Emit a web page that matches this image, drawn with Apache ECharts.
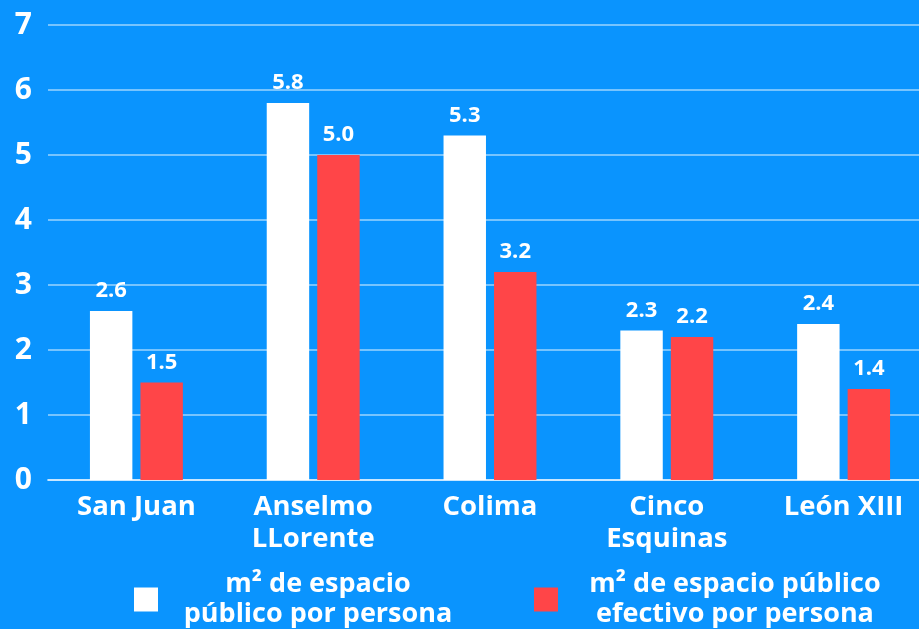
<!DOCTYPE html>
<html>
<head>
<meta charset="utf-8">
<script src="https://cdn.jsdelivr.net/npm/echarts@6/dist/echarts.min.js"></script>
<style>
  html, body { margin: 0; padding: 0; background: #0a94fe; }
  #chart { width: 919px; height: 629px; }
</style>
</head>
<body>
<div id="chart"></div>
<script>
// Neighbourhoods compared
const categories = ['San Juan', 'Anselmo\nLLorente', 'Colima', 'Cinco\nEsquinas', 'León XIII'];
// m² of public space per person
const totalSpace = [2.6, 5.8, 5.3, 2.3, 2.4];
// m² of effective public space per person
const effectiveSpace = [1.5, 5.0, 3.2, 2.2, 1.4];
const yTicks = [0, 1, 2, 3, 4, 5, 6, 7];

const seriesNames = ['m² de espacio\npúblico por persona', 'm² de espacio público\nefectivo por persona'];
const FONT = '"Open Sans", sans-serif';

const chart = echarts.init(document.getElementById('chart'), null, { renderer: 'canvas' });

function legendFor(name, left, boxWidth) {
  return {
    data: [name],
    left: left,
    top: 571,
    padding: 0,
    itemWidth: 24,
    itemHeight: 24,
    icon: 'rect',
    formatter: n => n.split('\n').map(l => '{t|' + l + '}').join('\n'),
    textStyle: {
      rich: {
        t: {
          color: '#ffffff', fontFamily: FONT, fontWeight: 'bold', fontSize: 27,
          lineHeight: 30, width: boxWidth, align: 'center'
        }
      }
    }
  };
}

chart.setOption({
  backgroundColor: '#0a94fe',
  animation: false,
  grid: { left: 48, top: 25, width: 884, bottom: 149, containLabel: false, outerBoundsMode: 'none' },
  legend: [legendFor(seriesNames[0], 134, 310), legendFor(seriesNames[1], 534, 344)],
  xAxis: {
    type: 'category',
    data: categories,
    axisLine: { show: true, lineStyle: { color: 'rgba(255,255,255,0.6)', width: 2 } },
    axisTick: { show: false },
    axisLabel: {
      color: '#ffffff', fontFamily: FONT, fontWeight: 'bold', fontSize: 27.5,
      lineHeight: 32, margin: 11, interval: 0
    }
  },
  yAxis: {
    type: 'value',
    min: yTicks[0],
    max: yTicks[yTicks.length - 1],
    interval: 1,
    axisLine: { show: false },
    axisTick: { show: false },
    axisLabel: {
      color: '#ffffff', fontFamily: FONT, fontWeight: 'bold', fontSize: 30,
      margin: 16, padding: [4, 0, 0, 0],
      formatter: v => yTicks.includes(v) ? String(v) : ''
    },
    splitLine: { lineStyle: { color: 'rgba(255,255,255,0.6)', width: 1.5 } }
  },
  series: [
    {
      name: seriesNames[0],
      type: 'bar',
      data: totalSpace,
      barWidth: '24%',
      barGap: '19%',
      itemStyle: { color: '#ffffff' },
      label: {
        show: true, position: 'top', distance: 9,
        color: '#ffffff', fontFamily: FONT, fontWeight: 'bold', fontSize: 22,
        formatter: p => p.value.toFixed(1)
      }
    },
    {
      name: seriesNames[1],
      type: 'bar',
      data: effectiveSpace,
      barWidth: '24%',
      itemStyle: { color: '#ff4548' },
      label: {
        show: true, position: 'top', distance: 9,
        color: '#ffffff', fontFamily: FONT, fontWeight: 'bold', fontSize: 22,
        formatter: p => p.value.toFixed(1)
      }
    }
  ]
});
</script>
</body>
</html>
